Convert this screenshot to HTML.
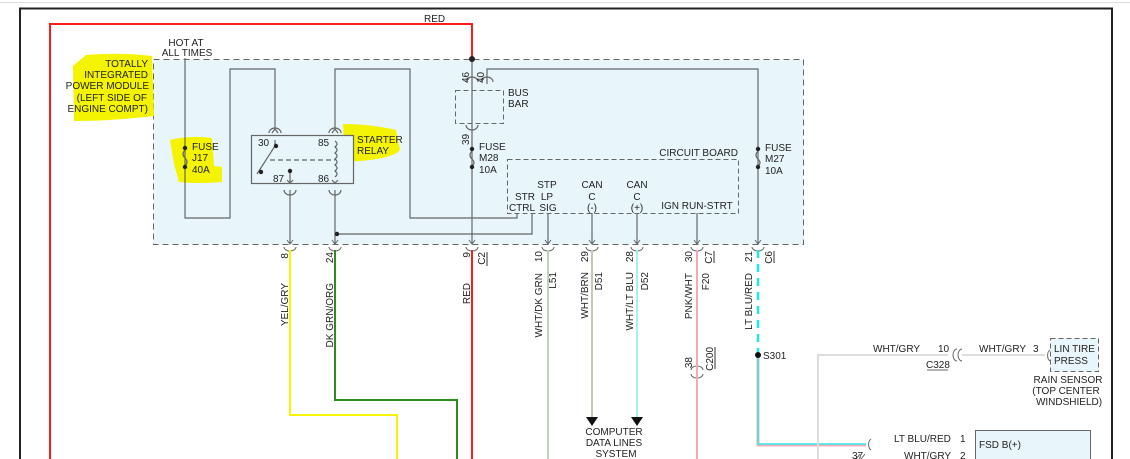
<!DOCTYPE html>
<html><head><meta charset="utf-8"><style>
html,body{margin:0;padding:0;background:#fff;width:1130px;height:459px;overflow:hidden}
svg{display:block}
text{font-family:"Liberation Sans",sans-serif;font-size:10px;fill:#222}
</style></head><body>
<svg width="1130" height="459" viewBox="0 0 1130 459" xmlns="http://www.w3.org/2000/svg">
<line x1="0" y1="2.5" x2="1130" y2="2.5" stroke="#ddd" stroke-width="1"/>
<line x1="19" y1="8.5" x2="1113" y2="8.5" stroke="#222" stroke-width="2"/>
<line x1="20" y1="8" x2="20" y2="459" stroke="#222" stroke-width="2"/>
<line x1="1112" y1="8" x2="1112" y2="459" stroke="#222" stroke-width="2"/>

<!-- module -->
<rect x="153.5" y="59.5" width="650" height="185" fill="#e8f5fb" stroke="#666" stroke-dasharray="6,4"/>
<rect x="455.5" y="90.5" width="48" height="33" fill="#e8f5fb" stroke="#666" stroke-dasharray="5,3"/>
<rect x="507.5" y="159.5" width="231" height="54" fill="#e8f5fb" stroke="#666" stroke-dasharray="5,3"/>

<!-- highlights -->
<path d="M86 55 Q120 52 152 56 L154 116 Q110 121 74 121 L73 66 Z" fill="#f4f400"/>
<path d="M170 140 Q190 135 212 138 L214 166 L222 167 L222 182 Q196 184 179 182 L174 164 Z" fill="#f4f400"/>
<path d="M343 124 Q370 124 396 130 L400 150 Q392 160 345 162 Z" fill="#f4f400"/>

<rect x="251.5" y="135.5" width="102" height="48" fill="#e8f5fb" stroke="#666" stroke-width="1.2"/>

<!-- red wire -->
<polyline points="50,459 50,24 472,24 472,59" fill="none" stroke="#ff1a1a" stroke-width="2"/>
<line x1="472" y1="250" x2="472" y2="459" stroke="#ff1a1a" stroke-width="2"/>
<line x1="472" y1="59" x2="472" y2="244" stroke="#666" stroke-width="1.2"/>
<circle cx="472" cy="59" r="3" fill="#222"/>

<g fill="none" stroke="#666" stroke-width="1.2">
<polyline points="185,58 185,218 230,218 230,69 275,69 275,128"/>
<polyline points="335,128 335,69 410,69 410,218 517,218 517,213"/>
<polyline points="337,234 532,234 532,213"/>
<polyline points="335,190 335,244"/>
<polyline points="290,190 290,244"/>
<polyline points="487,84 487,69 758,69 758,244"/>
<polyline points="548,213 548,244"/>
<polyline points="592,213 592,244"/>
<polyline points="637,213 637,244"/>
<polyline points="697,213 697,244"/>
<polyline points="275,140 275,146 257,174"/>
<line x1="270" y1="160" x2="335" y2="160" stroke-dasharray="5,3"/>
<path d="M335 141 q4 3 0 6 q4 3 0 6 q4 3 0 6 q4 3 0 6 q4 3 0 6 q4 3 0 6"/>
<line x1="290" y1="172" x2="290" y2="182"/>
<path d="M185 150 q-4 4 0 8 q4 4 0 8"/>
<path d="M472 151 q-4 4 0 8 q4 4 0 7"/>
<path d="M758 151 q-4 4 0 8 q4 4 0 7"/>
<path d="M269 133 a6 5 0 0 1 12 0"/><path d="M329 133 a6 5 0 0 1 12 0"/>
<path d="M284 190 a6 5 0 0 0 12 0"/><path d="M329 190 a6 5 0 0 0 12 0"/>
<path d="M466 82 a6 5 0 0 1 12 0"/><path d="M481 82 a6 5 0 0 1 12 0"/>
<path d="M466 125 a6 5 0 0 0 12 0"/>
<polyline points="272,133 275,129 278,133"/><polyline points="332,133 335,129 338,133"/>
<polyline points="287,180 290,183 293,180"/><polyline points="332,180 335,183 338,180"/>
</g>
<g fill="#222">
<circle cx="185" cy="148" r="2.2"/><circle cx="185" cy="167" r="2.2"/>
<circle cx="472" cy="149" r="2.2"/><circle cx="472" cy="167" r="2.2"/>
<circle cx="758" cy="149" r="2.2"/><circle cx="758" cy="167" r="2.2"/>
<circle cx="276" cy="146" r="2.2"/><circle cx="261" cy="172" r="2.2"/><circle cx="290" cy="171" r="2.2"/>
<circle cx="337" cy="234" r="2.2"/>
</g>
<g fill="none" stroke="#666" stroke-width="1">
<polyline points="287,240 290,244 293,240"/><path d="M284 247 a6 4 0 0 0 12 0"/>
<polyline points="332,240 335,244 338,240"/><path d="M329 247 a6 4 0 0 0 12 0"/>
<polyline points="469,240 472,244 475,240"/><path d="M466 247 a6 4 0 0 0 12 0"/>
<polyline points="545,240 548,244 551,240"/><path d="M542 247 a6 4 0 0 0 12 0"/>
<polyline points="589,240 592,244 595,240"/><path d="M586 247 a6 4 0 0 0 12 0"/>
<polyline points="634,240 637,244 640,240"/><path d="M631 247 a6 4 0 0 0 12 0"/>
<polyline points="694,240 697,244 700,240"/><path d="M691 247 a6 4 0 0 0 12 0"/>
<polyline points="755,240 758,244 761,240"/><path d="M752 247 a6 4 0 0 0 12 0"/>
<path d="M691 370 a6 4 0 0 1 12 0"/><path d="M691 374 a6 4 0 0 0 12 0"/>
</g>

<polyline points="290,250 290,415 397,415 397,459" fill="none" stroke="#f5f500" stroke-width="2"/>
<polyline points="335,250 335,400 457,400 457,459" fill="none" stroke="#2e8b1e" stroke-width="2"/>
<line x1="548" y1="250" x2="548" y2="459" stroke="#b9d4b9" stroke-width="2"/>
<line x1="592" y1="250" x2="592" y2="418" stroke="#c8c6b4" stroke-width="2"/>
<line x1="637" y1="250" x2="637" y2="418" stroke="#a6f0f0" stroke-width="2"/>
<line x1="697" y1="250" x2="697" y2="459" stroke="#f6a8b8" stroke-width="2"/>
<line x1="758" y1="250" x2="758" y2="355" stroke="#22e6e6" stroke-width="2.5" stroke-dasharray="8,6"/>
<polyline points="758,355 758,445 866,445" fill="none" stroke="#f6b0b8" stroke-width="3"/>
<polyline points="758,355 758,444 866,444" fill="none" stroke="#33e8e8" stroke-width="1.6"/>
<polyline points="818,459 818,355 948,355" fill="none" stroke="#ddd" stroke-width="2"/>
<line x1="962" y1="355" x2="1045" y2="355" stroke="#ddd" stroke-width="2"/>
<circle cx="758" cy="355" r="3" fill="#111"/>
<path d="M586 417 L598 417 L592 426 Z M631 417 L643 417 L637 426 Z" fill="#111"/>
<g fill="none" stroke="#666" stroke-width="1">
<path d="M957 349 a4 6 0 0 0 0 12"/><path d="M962 349 a4 6 0 0 0 0 12"/>
<path d="M1050 350 a4 6 0 0 0 0 11"/>
<path d="M871 439 a4 6 0 0 0 0 11"/>
<path d="M856 459 l4 -5 M861 459 l4 -5"/>
</g>
<line x1="927" y1="370" x2="948" y2="370" stroke="#666"/>
<rect x="1050.5" y="338.5" width="48" height="33" fill="#e8f5fb" stroke="#666" stroke-dasharray="5,3"/>
<rect x="975.5" y="430.5" width="115" height="40" fill="#e8f5fb" stroke="#666"/>

<text x="424" y="22">RED</text>
<text x="186" y="46" text-anchor="middle">HOT AT</text>
<text x="187" y="56" text-anchor="middle">ALL TIMES</text>
<text x="148" y="67" text-anchor="end">TOTALLY</text>
<text x="148" y="78" text-anchor="end">INTEGRATED</text>
<text x="149" y="89" text-anchor="end">POWER MODULE</text>
<text x="147" y="101" text-anchor="end">(LEFT SIDE OF</text>
<text x="148" y="112" text-anchor="end">ENGINE COMPT)</text>
<text x="192" y="150">FUSE</text><text x="192" y="161">J17</text><text x="192" y="173">40A</text>
<text x="258" y="146">30</text><text x="318" y="146">85</text>
<text x="273" y="182">87</text><text x="318" y="182">86</text>
<text x="357" y="143">STARTER</text><text x="357" y="154">RELAY</text>
<text x="508" y="96">BUS</text><text x="508" y="107">BAR</text>
<text x="479" y="150">FUSE</text><text x="479" y="161">M28</text><text x="479" y="173">10A</text>
<text x="765" y="151">FUSE</text><text x="765" y="162">M27</text><text x="765" y="174">10A</text>
<text x="738" y="156" text-anchor="end">CIRCUIT BOARD</text>
<text x="525" y="200" text-anchor="middle">STR</text><text x="522" y="211" text-anchor="middle">CTRL</text>
<text x="547" y="188" text-anchor="middle">STP</text><text x="547" y="200" text-anchor="middle">LP</text><text x="548" y="211" text-anchor="middle">SIG</text>
<text x="592" y="188" text-anchor="middle">CAN</text><text x="592" y="200" text-anchor="middle">C</text><text x="592" y="211" text-anchor="middle">(-)</text>
<text x="637" y="188" text-anchor="middle">CAN</text><text x="637" y="200" text-anchor="middle">C</text><text x="637" y="211" text-anchor="middle">(+)</text>
<text x="697" y="209" text-anchor="middle">IGN RUN-STRT</text>
<text transform="translate(469,83) rotate(-90)">46</text>
<text transform="translate(484,83) rotate(-90)">40</text>
<text transform="translate(469,145) rotate(-90)">39</text>

<g>
<text transform="translate(288,253) rotate(-90)" text-anchor="end">8</text>
<text transform="translate(288,283) rotate(-90)" text-anchor="end">YEL/GRY</text>
<text transform="translate(333,252) rotate(-90)" text-anchor="end">24</text>
<text transform="translate(333,283) rotate(-90)" text-anchor="end">DK GRN/ORG</text>
<text transform="translate(470,252) rotate(-90)" text-anchor="end">9</text>
<text transform="translate(470,283) rotate(-90)" text-anchor="end">RED</text>
<text transform="translate(485,252) rotate(-90)" text-anchor="end">C2</text>
<text transform="translate(542,251) rotate(-90)" text-anchor="end">10</text>
<text transform="translate(542,273) rotate(-90)" text-anchor="end">WHT/DK GRN</text>
<text transform="translate(556,272) rotate(-90)" text-anchor="end">L51</text>
<text transform="translate(588,251) rotate(-90)" text-anchor="end">29</text>
<text transform="translate(588,272) rotate(-90)" text-anchor="end">WHT/BRN</text>
<text transform="translate(602,272) rotate(-90)" text-anchor="end">D51</text>
<text transform="translate(633,251) rotate(-90)" text-anchor="end">28</text>
<text transform="translate(633,272) rotate(-90)" text-anchor="end">WHT/LT BLU</text>
<text transform="translate(648,272) rotate(-90)" text-anchor="end">D52</text>
<text transform="translate(692,251) rotate(-90)" text-anchor="end">30</text>
<text transform="translate(692,273) rotate(-90)" text-anchor="end">PNK/WHT</text>
<text transform="translate(709,273) rotate(-90)" text-anchor="end">F20</text>
<text transform="translate(712,251) rotate(-90)" text-anchor="end">C7</text>
<text transform="translate(752,251) rotate(-90)" text-anchor="end">21</text>
<text transform="translate(752,273) rotate(-90)" text-anchor="end">LT BLU/RED</text>
<text transform="translate(772,251) rotate(-90)" text-anchor="end">C6</text>
<text transform="translate(692,357) rotate(-90)" text-anchor="end">38</text>
<text transform="translate(713,347) rotate(-90)" text-anchor="end">C200</text>
</g>
<g stroke="#333" stroke-width="1">
<line x1="487" y1="252" x2="487" y2="266"/>
<line x1="714" y1="251" x2="714" y2="263"/>
<line x1="774" y1="251" x2="774" y2="263"/>
<line x1="715" y1="347" x2="715" y2="369"/>
</g>
<text x="763" y="359">S301</text>
<text x="614" y="435" text-anchor="middle">COMPUTER</text>
<text x="614" y="446" text-anchor="middle">DATA LINES</text>
<text x="616" y="457" text-anchor="middle">SYSTEM</text>
<text x="873" y="352">WHT/GRY</text><text x="938" y="352">10</text>
<text x="926" y="368">C328</text>
<text x="979" y="352">WHT/GRY</text><text x="1033" y="352">3</text>
<text x="1054" y="352">LIN TIRE</text><text x="1054" y="364">PRESS</text>
<text x="1068" y="383" text-anchor="middle">RAIN SENSOR</text>
<text x="1066" y="394" text-anchor="middle">(TOP CENTER</text>
<text x="1069" y="405" text-anchor="middle">WINDSHIELD)</text>
<text x="894" y="442">LT BLU/RED</text><text x="960" y="442">1</text>
<text x="979" y="448">FSD B(+)</text>
<text x="904" y="459">WHT/GRY</text><text x="960" y="459">2</text>
<text x="852" y="459">37</text>
</svg>
</body></html>
